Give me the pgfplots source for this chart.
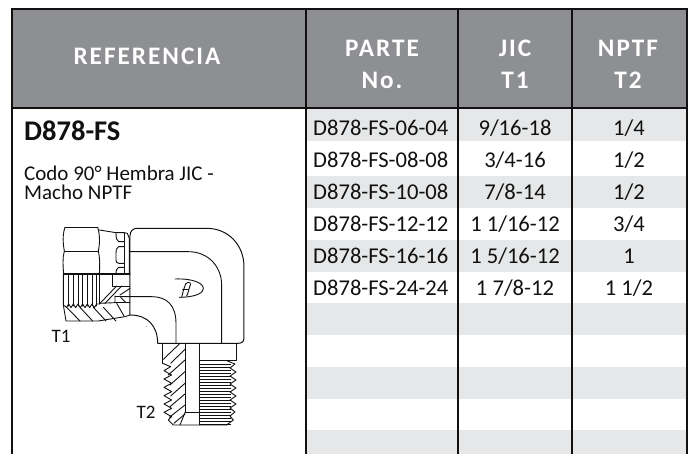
\documentclass[border=0pt]{standalone}
\usepackage{pgfplots}
\pgfplotsset{compat=1.18}
\usepackage{fontspec}
\setmainfont{Carlito}
\newfontfamily\headfont[LetterSpace=8]{Carlito}
\definecolor{headgray}{HTML}{8E8F92}
\definecolor{rowgray}{HTML}{E6E7E8}
\definecolor{ink}{HTML}{111111}
\begin{document}
\begin{tikzpicture}
\begin{axis}[
  at={(0,0)},anchor=south west,
  scale only axis,width=690pt,height=454pt,
  xmin=0,xmax=690,ymin=0,ymax=454,y dir=reverse,
  hide axis,clip=false,
]
% header band and striped rows
\addplot[fill=headgray,draw=none] coordinates {(12,9)(687,9)(687,108)(12,108)} -- cycle;
\addplot[fill=rowgray,draw=none] coordinates {(306,108)(687,108)(687,141)(306,141)} -- cycle;
\addplot[fill=rowgray,draw=none] coordinates {(306,176)(687,176)(687,208)(306,208)} -- cycle;
\addplot[fill=rowgray,draw=none] coordinates {(306,240)(687,240)(687,272)(306,272)} -- cycle;
\addplot[fill=rowgray,draw=none] coordinates {(306,303)(687,303)(687,335)(306,335)} -- cycle;
\addplot[fill=rowgray,draw=none] coordinates {(306,367)(687,367)(687,399)(306,399)} -- cycle;
\addplot[fill=rowgray,draw=none] coordinates {(306,430)(687,430)(687,454)(306,454)} -- cycle;
% cell text
\addplot[draw=none,mark=none,nodes near coords,point meta=explicit symbolic,
  nodes near coords style={anchor=west,inner sep=0pt,text=ink,font=\fontsize{22.6}{23}\selectfont}]
  table[x=x,y=y,meta=t,col sep=comma,row sep=\\] {
  x,y,t\\
  313,128,D878-FS-06-04\\
  313,160,D878-FS-08-08\\
  313,192,D878-FS-10-08\\
  313,224,D878-FS-12-12\\
  313,256,D878-FS-16-16\\
  313,288,D878-FS-24-24\\
};
\addplot[draw=none,mark=none,nodes near coords,point meta=explicit symbolic,
  nodes near coords style={anchor=center,inner sep=0pt,text=ink,font=\fontsize{22.6}{23}\selectfont}]
  table[x=x,y=y,meta=t,col sep=comma,row sep=\\] {
  x,y,t\\
  515,128,9/16-18\\
  515,160,3/4-16\\
  515,192,7/8-14\\
  515,224,1 1/16-12\\
  515,256,1 5/16-12\\
  515,288,1 7/8-12\\
};
\addplot[draw=none,mark=none,nodes near coords,point meta=explicit symbolic,
  nodes near coords style={anchor=center,inner sep=0pt,text=ink,font=\fontsize{22.6}{23}\selectfont}]
  table[x=x,y=y,meta=t,col sep=comma,row sep=\\] {
  x,y,t\\
  629,128,1/4\\
  629,160,1/2\\
  629,192,1/2\\
  629,224,3/4\\
  629,256,1\\
  629,288,1 1/2\\
};
\end{axis}
% grid lines
\draw[ink,line width=1.7pt] (12pt,0pt) -- (12pt,445pt) -- (687pt,445pt) -- (687pt,0pt);
\draw[ink,line width=1.7pt] (306pt,0pt) -- (306pt,445pt);
\draw[ink,line width=1.7pt] (458pt,0pt) -- (458pt,445pt);
\draw[ink,line width=1.7pt] (572pt,0pt) -- (572pt,445pt);
\draw[ink,line width=2.4pt] (12pt,346pt) -- (687pt,346pt);
% header text
\begin{scope}[every node/.style={inner sep=0pt,text=white,font=\headfont\bfseries\fontsize{25.2}{26}\selectfont}]
\node at (147pt,398pt) {REFERENCIA};
\node at (382pt,406pt) {PARTE};
\node at (382pt,374pt) {No.};
\node at (515pt,406pt) {JIC};
\node at (515pt,374pt) {T1};
\node at (628pt,406pt) {NPTF};
\node at (628pt,374pt) {T2};
\end{scope}
% left column text
\node[anchor=west,inner sep=0pt,text=ink,font=\bfseries\fontsize{28.5}{29}\selectfont] at (24pt,323pt) {D878-FS};
\node[anchor=west,inner sep=0pt,text=ink,font=\fontsize{21}{22}\selectfont] at (24pt,281pt) {Codo 90° Hembra JIC -};
\node[anchor=west,inner sep=0pt,text=ink,font=\fontsize{21}{22}\selectfont] at (24pt,262pt) {Macho NPTF};
\node[inner sep=0pt,text=ink,font=\fontsize{19}{20}\selectfont] at (61pt,118pt) {T1};
\node[inner sep=0pt,text=ink,font=\fontsize{19}{20}\selectfont] at (146pt,42pt) {T2};
% fitting
\begin{scope}[shift={(20pt,244pt)},x=0.3333pt,y=-0.3333pt,ink,line width=0.9pt,line cap=round,line join=round]
% nut
\draw (135,52)--(233,52);
\draw (135,52) .. controls (127,75) and (129,100) .. (133,123);
\draw (233,52) .. controls (240,75) and (240,100) .. (235,123);
\draw (133,123)--(235,123);
\draw (133,123) .. controls (127,145) and (129,170) .. (131,192);
\draw (235,123) .. controls (240,145) and (240,170) .. (238,192);
\draw[line width=1.1pt] (131,192)--(330,192);
\draw (130,192)--(130,285)--(138,333)--(235,333)--(315,320)--(330,315);
% collar
\draw (238,60)--(288,68)--(312,68)--(322,70)--(328,85)--(328,192);
\draw (312,68)--(312,192);
\draw (288,68) .. controls (288,85) and (290,92) .. (296,95) -- (312,95);
\draw (312,110)--(296,110) .. controls (288,113) and (288,122) .. (288,130) -- (288,150) .. controls (288,155) and (290,160) .. (296,160) -- (312,160);
\draw (312,172)--(296,172) .. controls (290,174) and (288,182) .. (288,192);
% thread lines of nut
\foreach \x in {146,160,174,188,202,216,230} {\draw (\x,194)--(\x,288);}
\draw (130,285)--(140,292)--(146,282)--(153,293)--(160,282)--(167,293)--(174,282)--(181,293)--(188,282)--(195,293)--(202,282)--(209,293)--(216,282)--(223,293)--(230,282)--(238,282);
\draw (238,192)--(238,282);
% nut section
\foreach \x/\e in {140/180,180/218,220/258,250/288} {\draw (\x,292)--(\e,333);}
\draw (278,192)--(278,228)--(330,228);
\draw (240,280)--(290,228);
\draw (255,280)--(305,228);
\draw (300,255)--(330,235);
\draw (285,258)--(285,278)--(240,280);
\draw (285,258)--(330,258);
\draw (285,278)--(330,278);
\draw (302,262)--(318,278);
\draw (290,280)--(312,318);
% body
\draw[line width=1pt] (330,315)--(330,78) .. controls (330,62) and (340,55) .. (352,55) -- (560,55) .. controls (625,55) and (672,105) .. (672,170) -- (672,385) .. controls (672,395) and (665,400) .. (655,400) -- (413,400) .. controls (413,350) and (385,315) .. (330,315);
\draw (330,125)--(505,125) .. controls (565,125) and (605,170) .. (605,225) -- (605,400);
\draw (300,260)--(395,260) .. controls (440,260) and (468,285) .. (468,340) -- (468,400);
\fill (380,350) circle (0.8);
% logo
\draw (465,207) .. controls (520,205) and (550,220) .. (550,235) .. controls (550,255) and (510,262) .. (478,262);
\draw (497,222) .. controls (490,240) and (488,250) .. (485,262);
\draw (497,222) .. controls (500,215) and (510,215) .. (512,220);
\draw (512,222) .. controls (505,240) and (505,250) .. (500,258);
\draw (488,238) -- (505,238);
% male
\draw (428,400)--(428,460);
\draw (650,400)--(650,452)--(538,452);
\draw (495,400)--(495,608);
\draw (538,400)--(538,645);
\draw (495,608)--(538,608);
\draw (430,448)--(478,402);
\draw (452,460)--(495,418);
\draw (445,495)--(495,450);
\draw (450,525)--(495,485);
\draw (452,558)--(495,520);
\draw (450,590)--(495,552);
\draw (448,622)--(495,585);
\draw (462,640)--(495,612);
\draw (428,460)--(452,470)--(432,482)--(455,495)--(432,507)--(455,520)--(432,532)--(455,545)--(432,557)--(455,570)--(432,582)--(455,595)--(432,607)--(455,620)--(445,630)--(460,645)--(620,645);
\draw (495,608)--(480,645);
\foreach \y in {462,471,...,642} {\draw (538,\y)--(632,\y);}
\draw (620,452)--(645,462)--(630,474)--(648,486)--(630,498)--(648,510)--(630,522)--(648,534)--(630,546)--(648,558)--(630,570)--(648,582)--(630,594)--(645,606)--(630,618)--(640,630)--(620,645);
\end{scope}
\path[use as bounding box] (0,0) rectangle (690pt,454pt);
\end{tikzpicture}
\end{document}
